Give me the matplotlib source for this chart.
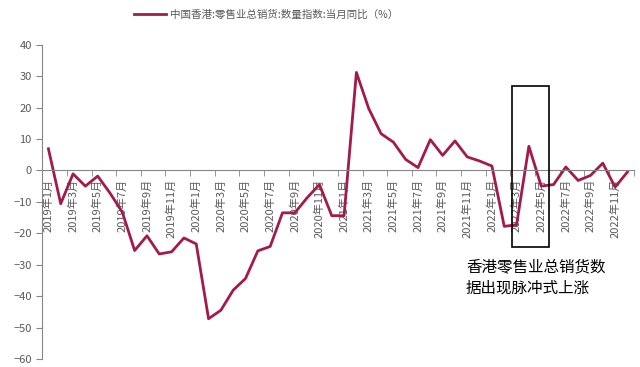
import matplotlib.pyplot as plt
from matplotlib.patches import Rectangle

plt.rcParams['font.family'] = ['Noto Sans CJK SC', 'DejaVu Sans']

# 2019-01 .. 2022-12, monthly
months = [f"{y}年{m}月" for y in range(2019, 2023) for m in range(1, 13)]
values = [6.9, -10.6, -1.1, -5.0, -1.8, -7.2, -13.3, -25.5, -20.8, -26.6, -25.9, -21.5,
          -23.4, -47.2, -44.5, -38.1, -34.4, -25.6, -24.2, -13.5, -13.5, -8.7, -4.5, -14.4,
          -14.4, 31.2, 19.7, 11.7, 9.0, 3.5, 0.9, 9.8, 4.8, 9.4, 4.3, 3.0,
          1.4, -17.8, -17.3, 7.7, -5.0, -4.5, 1.1, -3.2, -1.6, 2.3, -5.3, -0.5]
series_name = "中国香港:零售业总销货:数量指数:当月同比（%）"
note = "香港零售业总销货数\n据出现脉冲式上涨"

grey = '#868686'
txt = '#595959'
red = '#A31A4D'

fig = plt.figure(figsize=(6.4, 3.67), dpi=100)
ax = fig.add_axes([0.066, 0.022, 0.924, 0.856])

x = list(range(len(values)))
ax.plot(x, values, color=red, lw=2.0, label=series_name)

ax.set_xlim(-0.5, len(values) - 0.5)
ax.set_ylim(-60, 40)
ax.set_yticks(range(-60, 41, 10))

ax.spines['top'].set_visible(False)
ax.spines['right'].set_visible(False)
ax.spines['bottom'].set_position(('data', 0))
ax.spines['bottom'].set_color(grey)
ax.spines['left'].set_color(grey)

# labels every 2 months, tick marks between categories
ax.set_xticks(x[::2])
ax.set_xticklabels(months[::2], rotation=90, fontsize=8, color=txt)
ax.set_xticks([i - 0.5 for i in range(0, len(values) + 1, 2)], minor=True)
ax.tick_params(axis='x', which='major', length=0, pad=6)
ax.tick_params(axis='x', which='minor', length=4, color=grey, direction='out')
ax.tick_params(axis='y', length=4, color=grey, labelsize=8, labelcolor=txt)

# highlight box
ax.add_patch(Rectangle((37.6, -24.3), 3.0, 51.1, fill=False, ec='black', lw=1.2, zorder=5))
ax.text(33.9, -28.0, note, fontsize=11.2, color='black', va='top', ha='left', linespacing=1.35)

fig.legend(loc='upper center', bbox_to_anchor=(0.416, 1.0), frameon=False,
           fontsize=7.6, labelcolor=txt, handlelength=3.0, handletextpad=0.4)

fig.savefig('out.png')
